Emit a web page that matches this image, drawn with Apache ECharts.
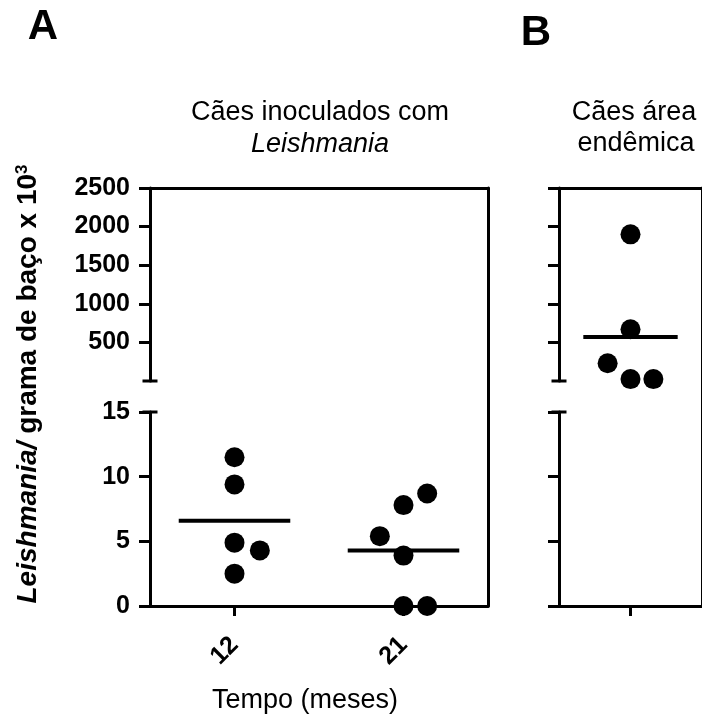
<!DOCTYPE html>
<html>
<head>
<meta charset="utf-8">
<script src="https://cdn.jsdelivr.net/npm/echarts@6/dist/echarts.min.js"></script>
<style>
  html, body { margin: 0; padding: 0; background: #fff; }
  #chart { width: 702px; height: 718px; }
</style>
</head>
<body>
<div id="chart"></div>
<script>
// valeurs
const categoriesA = ['12', '21'];
const valuesA12 = [11.5, 9.4, 4.9, 4.3, 2.5];
const valuesA21 = [8.7, 7.8, 5.4, 3.9, 0, 0];
const valuesB = [1900, 670, 230, 25, 25];
const meansA = [6.6, 4.3];
const meansB = [570];
const upperTicks = [500, 1000, 1500, 2000, 2500];
const lowerTicks = [0, 5, 10, 15];
const breakAt = 15;

// écart horizontal des points dans une colonne
const jitterA12 = [0, 0, 0, 0.15, 0];
const jitterA21 = [0.14, 0, -0.14, 0, 0, 0.14];
const jitterB = [0, 0, -0.16, 0, 0.16];

const FONT = 'Liberation Sans, Arial, sans-serif';
const black = '#000';
const lw = 3;

const chart = echarts.init(document.getElementById('chart'));

// grilles : haut / bas / cadre pour chaque panneau
const grids = [
  { left: 150, top: 188, width: 338, height: 193 },
  { left: 150, top: 412, width: 338, height: 194 },
  { left: 150, top: 188, width: 338, height: 418 },
  { left: 559, top: 188, width: 152, height: 193 },
  { left: 559, top: 412, width: 152, height: 194 },
  { left: 559, top: 188, width: 152, height: 418 },
];

const hidden = { show: false };
const lineStyle = { color: black, width: lw };

function xHidden(gridIndex, max) {
  return { type: 'value', gridIndex, min: 0.5, max, show: false };
}
function xBottom(gridIndex, max, ticks, labels) {
  return {
    type: 'value', gridIndex, min: 0.5, max,
    axisLine: { show: true, onZero: false, lineStyle },
    axisTick: { show: true, customValues: ticks, length: 10, lineStyle },
    axisLabel: labels ? {
      customValues: ticks,
      formatter: (v) => labels[Math.round(v) - 1],
      rotate: 45, margin: 35,
      color: black, fontFamily: FONT, fontWeight: 'bold', fontSize: 25,
    } : hidden,
    splitLine: hidden,
  };
}
function xTop(gridIndex, max) {
  return {
    type: 'value', gridIndex, min: 0.5, max, position: 'top',
    axisLine: { show: true, onZero: false, lineStyle },
    axisTick: hidden, axisLabel: hidden, splitLine: hidden,
  };
}
function yLeft(gridIndex, max, ticks, withLabels, cap) {
  return {
    type: 'value', gridIndex, min: 0, max,
    axisLine: { show: true, onZero: false, lineStyle, symbol: cap, symbolSize: [15, lw] },
    axisTick: { show: true, customValues: ticks, length: 11, lineStyle },
    axisLabel: withLabels ? {
      customValues: ticks, margin: 20,
      formatter: (v) => String(v),
      color: black, fontFamily: FONT, fontWeight: 'bold', fontSize: 25,
    } : hidden,
    splitLine: hidden,
  };
}
function yRight(gridIndex) {
  return {
    type: 'value', gridIndex, min: 0, max: 1, position: 'right',
    axisLine: { show: true, onZero: false, lineStyle },
    axisTick: hidden, axisLabel: hidden, splitLine: hidden,
  };
}

const xAxis = [
  xHidden(0, 2.5),
  xBottom(1, 2.5, [1, 2], categoriesA),
  xTop(2, 2.5),
  xHidden(3, 1.5),
  xBottom(4, 1.5, [1], null),
  xTop(5, 1.5),
];
const yAxis = [
  yLeft(0, 2500, upperTicks, true, ['rect', 'none']),
  yLeft(1, 15, lowerTicks, true, ['none', 'rect']),
  yRight(2),
  yLeft(3, 2500, upperTicks, false, ['rect', 'none']),
  yLeft(4, 15, lowerTicks, false, ['none', 'rect']),
  yRight(5),
];

// points d'une colonne, répartis entre la partie haute et basse de l'axe
function dots(values, jitter, pos, upper, lower) {
  const out = [];
  const hi = [], lo = [];
  values.forEach((v, i) => {
    (v > breakAt ? hi : lo).push([pos + jitter[i], v]);
  });
  [[hi, upper], [lo, lower]].forEach(([data, idx]) => {
    if (!data.length) return;
    out.push({
      type: 'scatter', xAxisIndex: idx, yAxisIndex: idx, data,
      symbol: 'circle', symbolSize: 20, clip: false,
      itemStyle: { color: black, opacity: 1 }, z: 5,
    });
  });
  return out;
}
function meanLine(mean, pos, upper, lower) {
  const idx = mean > breakAt ? upper : lower;
  return {
    type: 'line', xAxisIndex: idx, yAxisIndex: idx,
    data: [[pos - 0.33, mean], [pos + 0.33, mean]],
    showSymbol: false, silent: true, clip: false,
    lineStyle: { color: black, width: 4 }, z: 4,
  };
}

const series = [
  ...dots(valuesA12, jitterA12, 1, 0, 1),
  ...dots(valuesA21, jitterA21, 2, 0, 1),
  ...dots(valuesB, jitterB, 1, 3, 4),
  meanLine(meansA[0], 1, 0, 1),
  meanLine(meansA[1], 2, 0, 1),
  meanLine(meansB[0], 1, 3, 4),
];

function txt(x, y, text, size, extra) {
  return {
    type: 'text', x, y,
    style: Object.assign({
      text, fill: black, fontFamily: FONT, fontSize: size,
      align: 'center', verticalAlign: 'middle',
    }, extra || {}),
  };
}

const graphic = [
  txt(43, 27, 'A', 42, { fontWeight: 'bold' }),
  txt(536, 33, 'B', 42, { fontWeight: 'bold' }),
  txt(320, 113, 'Cães inoculados com', 27),
  txt(320, 144, 'Leishmania', 27, { fontStyle: 'italic' }),
  txt(634, 113, 'Cães área', 27),
  txt(636, 144, 'endêmica', 27),
  txt(305, 701, 'Tempo (meses)', 27),
  {
    type: 'text', x: 28, y: 384, rotation: Math.PI / 2,
    style: {
      text: '{i|Leishmania/} grama de baço x 10{s|3}',
      fill: black, fontFamily: FONT, fontSize: 28, fontWeight: 'bold',
      align: 'center', verticalAlign: 'middle',
      rich: {
        i: { fontFamily: FONT, fontSize: 28, fontWeight: 'bold', fontStyle: 'italic', fill: black },
        s: { fontFamily: FONT, fontSize: 17, fontWeight: 'bold', fill: black, verticalAlign: 'top' },
      },
    },
  },
];

const option = {
  animation: false,
  backgroundColor: '#fff',
  grid: grids,
  xAxis,
  yAxis,
  series,
  graphic,
};

chart.setOption(option);
</script>
</body>
</html>
